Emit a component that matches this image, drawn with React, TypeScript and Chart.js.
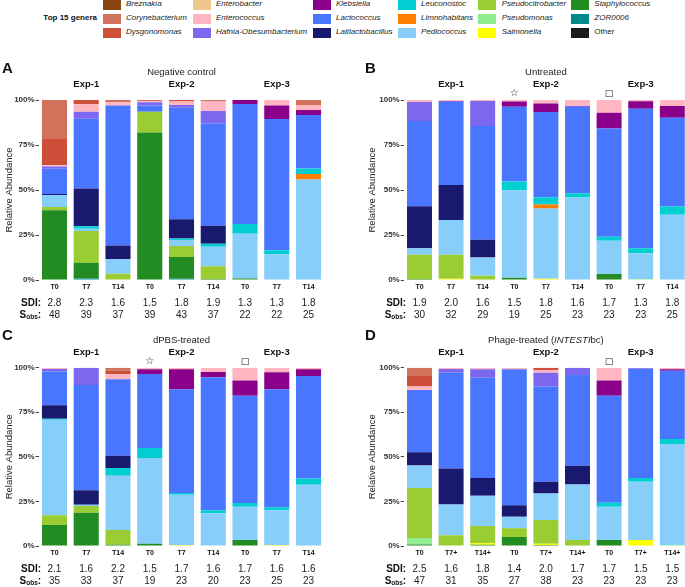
import React, { useEffect, useRef } from 'react';
import { Chart, registerables } from 'chart.js';

Chart.register(...registerables);

const FONT = '"Liberation Sans", Arial, Helvetica, sans-serif';

const GENERA = [
  'Breznakia', 'Corynebacterium', 'Dysgonomonas', 'Enterobacter', 'Enterococcus',
  'Hafnia-Obesumbacterium', 'Klebsiella', 'Lactococcus', 'Latilactobacillus', 'Leuconostoc',
  'Limnohabitans', 'Pediococcus', 'Pseudocitrobacter', 'Pseudomonas', 'Salmonella',
  'Staphylococcus', 'ZOR0006', 'Other',
];
const COLORS = [
  '#8B4513', '#D0735A', '#CD4F39', '#F0C68F', '#FFB6C1',
  '#7B68EE', '#8B008B', '#4876FF', '#191970', '#00CED1',
  '#FF7F00', '#87CEFA', '#9ACD32', '#90EE90', '#FFFF00',
  '#228B22', '#008B8B', '#1A1A1A',
];

const TIMEPOINTS = ['T0', 'T7', 'T14', 'T0', 'T7', 'T14', 'T0', 'T7', 'T14'];
const TIMEPOINTS_PHAGE = ['T0', 'T7+', 'T14+', 'T0', 'T7+', 'T14+', 'T0', 'T7+', 'T14+'];
const EXPERIMENTS = ['Exp-1', 'Exp-2', 'Exp-3'];

// rows follow GENERA order; columns are the 9 samples
const negativeControl = [
  [0, 0, 0, 0, 0, 0, 0, 0, 0],
  [21.2, 0, 1.3, 0.7, 0, 0.9, 0, 0, 3.1],
  [15.1, 2.4, 0, 0, 0.9, 0, 0, 0, 0],
  [0, 0, 0, 0, 0, 0, 0, 0, 0],
  [0.7, 4.1, 1.8, 0.6, 1.9, 5.2, 0, 3.1, 2.5],
  [1.2, 3.9, 0, 1.8, 1.5, 6.9, 0, 0, 0],
  [0, 0, 0, 0, 0, 0, 2.2, 7.5, 2.7],
  [14, 38.7, 77.8, 3.4, 62, 56.8, 66.7, 72.9, 29.7],
  [0.6, 21.1, 7.4, 0, 10.7, 10, 0, 0, 0],
  [0, 1.3, 0, 0, 0.8, 1.7, 5.4, 2.2, 3.1],
  [0, 0, 0, 0, 0, 0, 0, 0, 3],
  [6.6, 1.3, 8.2, 0, 3.3, 10.9, 24.8, 14.3, 55.9],
  [1.9, 17.6, 3.5, 11.6, 6.1, 7, 0, 0, 0],
  [0, 0, 0, 0, 0, 0, 0, 0, 0],
  [0, 0, 0, 0, 0, 0, 0, 0, 0],
  [38.7, 8.8, 0, 81.9, 12.1, 0.6, 0.9, 0, 0],
  [0, 0.8, 0, 0, 0.7, 0, 0, 0, 0],
  [0, 0, 0, 0, 0, 0, 0, 0, 0],
];
const untreated = [
  [0, 0, 0, 0, 0, 0, 0, 0, 0],
  [0, 0, 0, 0, 0, 0, 0, 0, 0],
  [0, 0, 0, 0, 0, 0, 0, 0, 0],
  [0, 0, 0, 0, 0, 0, 0, 0, 0],
  [1.1, 0.6, 0.6, 0.9, 1.9, 3.4, 7.1, 0.7, 3.4],
  [10.6, 0.5, 13.9, 0, 0, 0.5, 0, 0, 0],
  [0, 0, 0, 2.8, 4.8, 0, 8.7, 4.1, 6.5],
  [47.3, 46.1, 63.2, 41.6, 47.3, 47.9, 60.2, 77.5, 49.3],
  [23.3, 19.5, 9.8, 0, 0, 0, 0, 0, 0],
  [0, 0, 0, 4.9, 4.1, 2.4, 2.2, 2.8, 4.5],
  [0, 0, 0, 0, 2.2, 0, 0, 0, 0],
  [3.7, 19.3, 10.1, 48.5, 39, 45.8, 18.4, 14.4, 36.3],
  [13.4, 13.3, 2.4, 0, 0, 0, 0, 0, 0],
  [0, 0, 0, 0, 0, 0, 0, 0.5, 0],
  [0, 0.7, 0, 0, 0.7, 0, 0, 0, 0],
  [0.6, 0, 0, 1.3, 0, 0, 3.4, 0, 0],
  [0, 0, 0, 0, 0, 0, 0, 0, 0],
  [0, 0, 0, 0, 0, 0, 0, 0, 0],
];
const dpbsTreated = [
  [0, 0, 0, 0, 0, 0, 0, 0, 0],
  [0, 0, 1.7, 0, 0, 0, 0, 0, 0],
  [0, 0, 2, 0, 0, 0, 0, 0, 0],
  [0, 0, 0, 0, 0, 0, 0, 0, 0],
  [0.7, 0, 2.8, 0.9, 0.9, 2.4, 7.2, 2.6, 0.9],
  [1.5, 9.7, 0, 0, 0, 0, 0, 0, 0],
  [0, 0, 0, 2.6, 11.2, 3, 8.6, 9.5, 3.7],
  [18.8, 59, 42.9, 41.5, 58.2, 74.6, 60.1, 66.1, 57.5],
  [7.6, 8.2, 6.8, 0, 0, 0, 0, 0, 0],
  [0.6, 0, 4.4, 5.7, 1, 1.7, 2.1, 1.7, 3.6],
  [0, 0, 0, 0, 0, 0, 0, 0, 0],
  [53.6, 0.7, 30.4, 48, 28.2, 18.3, 18.6, 19.6, 34.3],
  [5.4, 3.7, 8.3, 0, 0, 0, 0, 0, 0],
  [0, 0, 0, 0, 0, 0, 0, 0, 0],
  [0, 0, 0, 0, 0.5, 0, 0, 0.5, 0],
  [11.8, 18.7, 0.7, 1.3, 0, 0, 3.4, 0, 0],
  [0, 0, 0, 0, 0, 0, 0, 0, 0],
  [0, 0, 0, 0, 0, 0, 0, 0, 0],
];
const phageTreated = [
  [0, 0, 0, 0, 0, 0, 0, 0, 0],
  [4.6, 0, 0, 0, 0, 0, 0, 0, 0],
  [6, 0, 0, 0, 1.3, 0, 0, 0, 0],
  [0, 0, 0, 0, 0, 0, 0, 0, 0],
  [1.9, 0.7, 0.9, 0.9, 1.5, 0, 7.2, 0.3, 0.9],
  [0, 2.1, 4.7, 0, 7.8, 4.1, 0, 0.4, 0],
  [0, 0, 0, 0, 0, 0, 8.6, 0, 0.8],
  [34.9, 53.7, 56.3, 76.2, 53.4, 50.9, 59.9, 61.1, 38.3],
  [7.5, 20.2, 9.9, 6.5, 6.5, 10.5, 0, 0, 0],
  [0, 0, 0, 0, 0, 0, 2.3, 2.2, 2.8],
  [0, 0, 0, 0, 0, 0, 0, 0, 0],
  [12.6, 17.3, 17, 6.5, 14.9, 31.1, 18.6, 32.6, 56.7],
  [28, 6, 9.7, 4.9, 13.3, 3.4, 0, 0, 0],
  [3.6, 0, 0, 0, 0, 0, 0, 0, 0.5],
  [0, 0, 0.8, 0, 0.8, 0, 0, 3.4, 0],
  [0.9, 0, 0.7, 5, 0.5, 0, 3.4, 0, 0],
  [0, 0, 0, 0, 0, 0, 0, 0, 0],
  [0, 0, 0, 0, 0, 0, 0, 0, 0],
];

const sdiNegative = [2.8, 2.3, 1.6, 1.5, 1.8, 1.9, 1.3, 1.3, 1.8];
const sobsNegative = [48, 39, 37, 39, 43, 37, 22, 22, 25];
const sdiUntreated = [1.9, 2.0, 1.6, 1.5, 1.8, 1.6, 1.7, 1.3, 1.8];
const sobsUntreated = [30, 32, 29, 19, 25, 23, 23, 23, 25];
const sdiDpbs = [2.1, 1.6, 2.2, 1.5, 1.7, 1.6, 1.7, 1.6, 1.6];
const sobsDpbs = [35, 33, 37, 19, 23, 20, 23, 25, 23];
const sdiPhage = [2.5, 1.6, 1.8, 1.4, 2.0, 1.7, 1.7, 1.5, 1.5];
const sobsPhage = [47, 31, 35, 27, 38, 23, 23, 23, 23];

type Seg = { text: string; italic?: boolean };

type PanelSpec = {
  letter: string;
  title: Seg[];
  matrix: number[][];
  labels: string[];
  sdi: number[];
  sobs: number[];
  star: number | null;
  square: number | null;
  left: number; top: number; width: number; height: number;
  padTop: number; xHeight: number; yWidth: number; padRight: number;
};

function makeTextPlugin(p: PanelSpec) {
  return {
    id: 'panelText',
    afterDraw(chart: any) {
      const ctx: CanvasRenderingContext2D = chart.ctx;
      const a = chart.chartArea;
      const xs = chart.scales.x;
      const px = (i: number) => xs.getPixelForValue(i);
      ctx.save();
      ctx.fillStyle = '#111';
      ctx.textBaseline = 'middle';

      ctx.font = `bold 15px ${FONT}`;
      ctx.textAlign = 'left';
      ctx.fillText(p.letter, 2, a.top - 31.5);

      // title (segments, some italic)
      const tFont = (it?: boolean) => `${it ? 'italic ' : ''}9.5px ${FONT}`;
      let total = 0;
      p.title.forEach((s) => { ctx.font = tFont(s.italic); total += ctx.measureText(s.text).width; });
      let tx = px(4) - total / 2;
      ctx.fillStyle = '#222';
      p.title.forEach((s) => {
        ctx.font = tFont(s.italic);
        ctx.fillText(s.text, tx, a.top - 27.5);
        tx += ctx.measureText(s.text).width;
      });

      ctx.fillStyle = '#111';
      ctx.textAlign = 'center';
      ctx.font = `bold 9.5px ${FONT}`;
      EXPERIMENTS.forEach((e, g) => ctx.fillText(e, px(g * 3 + 1), a.top - 15.3));

      ctx.font = `10px "DejaVu Sans", sans-serif`;
      if (p.star !== null) ctx.fillText('\u2606', px(p.star), a.top - 6.2);
      ctx.font = `9px "DejaVu Sans", sans-serif`;
      if (p.square !== null) ctx.fillText('\u25A1', px(p.square), a.top - 6);

      ctx.font = `bold 7px ${FONT}`;
      p.labels.forEach((l, i) => ctx.fillText(l, px(i), a.bottom + 7.3));

      ctx.font = `10px ${FONT}`;
      ctx.fillStyle = '#222';
      p.sdi.forEach((v, i) => ctx.fillText(v.toFixed(1), px(i), a.bottom + 23));
      p.sobs.forEach((v, i) => ctx.fillText(String(v), px(i), a.bottom + 35));

      ctx.fillStyle = '#111';
      ctx.textAlign = 'right';
      const lx = a.left + 2.5;
      ctx.font = `bold 10px ${FONT}`;
      ctx.fillText('SDI:', lx, a.bottom + 23);
      // S_obs:
      ctx.fillText(':', lx, a.bottom + 35);
      const cw = ctx.measureText(':').width;
      ctx.font = `bold 6.5px ${FONT}`;
      ctx.fillText('obs', lx - cw, a.bottom + 37.5);
      const ow = ctx.measureText('obs').width;
      ctx.font = `bold 10px ${FONT}`;
      ctx.fillText('S', lx - cw - ow, a.bottom + 35);
      ctx.restore();
    },
  };
}

function Panel({ spec }: { spec: PanelSpec }) {
  const ref = useRef<HTMLCanvasElement | null>(null);
  useEffect(() => {
    if (!ref.current) return;
    const datasets = [] as any[];
    for (let g = GENERA.length - 1; g >= 0; g--) {
      datasets.push({
        label: GENERA[g],
        data: spec.matrix[g],
        backgroundColor: COLORS[g],
        borderWidth: 0,
        categoryPercentage: 0.79,
        barPercentage: 1,
      });
    }
    const chart = new Chart(ref.current, {
      type: 'bar',
      data: { labels: spec.labels, datasets },
      options: {
        animation: false,
        responsive: false,
        devicePixelRatio: 1,
        layout: { padding: { top: spec.padTop, right: spec.padRight, left: 0, bottom: 0 } },
        plugins: { legend: { display: false }, tooltip: { enabled: false }, title: { display: false } },
        scales: {
          x: {
            stacked: true,
            grid: { display: false },
            border: { display: false },
            ticks: { display: false },
            afterFit: (s: any) => { s.height = spec.xHeight; },
          },
          y: {
            stacked: true,
            min: 0,
            max: 100,
            grid: { display: true, drawOnChartArea: false, drawTicks: true, tickLength: 3, color: '#444' },
            border: { display: false },
            ticks: {
              stepSize: 25,
              padding: 1,
              color: '#333',
              font: { family: FONT, size: 8, weight: 'bold' },
              callback: (v: any) => `${v}%`,
            },
            title: {
              display: true,
              text: 'Relative Abundance',
              color: '#222',
              font: { family: FONT, size: 9.5 },
              padding: { top: 4, bottom: 0 },
            },
            afterFit: (s: any) => { s.width = spec.yWidth; },
          },
        },
      } as any,
      plugins: [makeTextPlugin(spec)],
    });
    return () => chart.destroy();
  }, [spec]);
  return (
    <canvas
      ref={ref}
      width={spec.width}
      height={spec.height}
      style={{ position: 'absolute', left: spec.left, top: spec.top, width: spec.width, height: spec.height }}
    />
  );
}

const PANELS: PanelSpec[] = [
  {
    letter: 'A', title: [{ text: 'Negative control' }], matrix: negativeControl, labels: TIMEPOINTS,
    sdi: sdiNegative, sobs: sobsNegative, star: null, square: null,
    left: 0, top: 58, width: 340, height: 272, padTop: 42, xHeight: 50, yWidth: 38.6, padRight: 15.6,
  },
  {
    letter: 'B', title: [{ text: 'Untreated' }], matrix: untreated, labels: TIMEPOINTS,
    sdi: sdiUntreated, sobs: sobsUntreated, star: 3, square: 6,
    left: 363, top: 58, width: 330, height: 272, padTop: 42, xHeight: 50, yWidth: 40.7, padRight: 4.9,
  },
  {
    letter: 'C', title: [{ text: 'dPBS-treated' }], matrix: dpbsTreated, labels: TIMEPOINTS,
    sdi: sdiDpbs, sobs: sobsDpbs, star: 3, square: 6,
    left: 0, top: 326, width: 340, height: 261, padTop: 41.7, xHeight: 41, yWidth: 38.6, padRight: 15.6,
  },
  {
    letter: 'D',
    title: [{ text: 'Phage-treated (' }, { text: 'INTESTI', italic: true }, { text: 'bc)' }],
    matrix: phageTreated, labels: TIMEPOINTS_PHAGE,
    sdi: sdiPhage, sobs: sobsPhage, star: null, square: 6,
    left: 363, top: 326, width: 330, height: 261, padTop: 41.7, xHeight: 41, yWidth: 40.7, padRight: 4.9,
  },
];

const LEGEND_SWATCH_X = [102.7, 192.7, 312.7, 397.7, 478.3, 571];
const LEGEND_TEXT_X = [126, 216, 336, 421, 501.7, 594.3];
const LEGEND_ROW_Y = [4.8, 19, 33];

function Legend() {
  return (
    <>
      <div style={{
        position: 'absolute', right: 685 - 97, top: LEGEND_ROW_Y[1] - 6, height: 12, lineHeight: '12px',
        font: `bold 8px ${FONT}`, color: '#111', whiteSpace: 'nowrap',
      }}>Top 15 genera</div>
      {GENERA.map((g, i) => {
        const col = Math.floor(i / 3);
        const row = i % 3;
        const cy = LEGEND_ROW_Y[row];
        return (
          <React.Fragment key={g}>
            <div style={{
              position: 'absolute', left: LEGEND_SWATCH_X[col], top: cy - 4.8, width: 18, height: 9.6,
              background: COLORS[i],
            }} />
            <div style={{
              position: 'absolute', left: LEGEND_TEXT_X[col], top: cy - 6, height: 12, lineHeight: '12px',
              font: `${g === 'Other' ? '' : 'italic '}8px ${FONT}`, color: '#222', whiteSpace: 'nowrap',
            }}>{g}</div>
          </React.Fragment>
        );
      })}
    </>
  );
}

export default function App() {
  return (
    <div style={{
      position: 'absolute', left: 0, top: 0, width: 685, height: 587, overflow: 'hidden', background: '#fff',
    }}>
      <Legend />
      {PANELS.map((p) => <Panel key={p.letter} spec={p} />)}
    </div>
  );
}
